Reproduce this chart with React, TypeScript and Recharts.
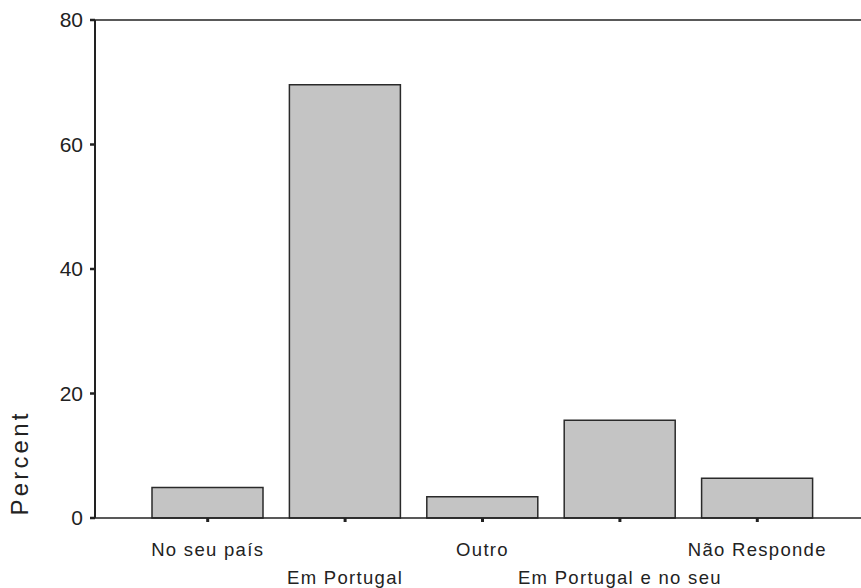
import { Bar, BarChart, ReferenceLine, XAxis, YAxis } from "recharts"

const categories = ["No seu país", "Em Portugal", "Outro", "Em Portugal e no seu", "Não Responde"]
const percents = [4.9, 69.6, 3.4, 15.7, 6.4]
const yTicks = [0, 20, 40, 60, 80]

const data = categories.map((name, i) => ({ name, value: percents[i] }))

const FONT = "'Liberation Sans', Arial, Helvetica, sans-serif"

// labels alternate between two rows, like the original
function StaggeredTick(props: any) {
  const { x, y, payload, index } = props
  const dy = index % 2 === 0 ? 34 : 62
  return (
    <text
      x={x}
      y={y + dy}
      textAnchor="middle"
      fill="#222"
      fontSize={18.5}
      fontFamily={FONT}
      style={{ letterSpacing: "1.3px" }}
    >
      {payload.value}
    </text>
  )
}

function PercentLabel(props: any) {
  const { viewBox } = props
  const cx = 19
  const cy = viewBox.y + viewBox.height - 55
  return (
    <text
      x={cx}
      y={cy}
      transform={`rotate(-90 ${cx} ${cy})`}
      textAnchor="middle"
      dominantBaseline="central"
      fill="#222"
      fontSize={24}
      fontFamily={FONT}
      style={{ letterSpacing: "3.2px" }}
    >
      Percent
    </text>
  )
}

export default function App() {
  return (
    <div style={{ position: "absolute", left: 0, top: 0, background: "#fff" }}>
      <BarChart
        width={861}
        height={588}
        data={data}
        margin={{ top: 20, right: 0, left: 0, bottom: 0 }}
      >
        <XAxis
          dataKey="name"
          height={70}
          interval={0}
          padding={{ left: 44, right: 35 }}
          axisLine={{ stroke: "#222", strokeWidth: 1.5 }}
          tickLine={{ stroke: "#222", strokeWidth: 3 }}
          tickSize={4}
          tickMargin={0}
          tick={<StaggeredTick />}
        />
        <YAxis
          width={95}
          domain={[0, 80]}
          ticks={yTicks}
          axisLine={{ stroke: "#222", strokeWidth: 2 }}
          tickLine={{ stroke: "#222", strokeWidth: 2.5 }}
          tickSize={5}
          tickMargin={7}
          tick={{ fill: "#222", fontSize: 21, fontFamily: FONT }}
          label={<PercentLabel />}
        />
        <ReferenceLine y={80} stroke="#222" strokeWidth={1.5} />
        <Bar
          dataKey="value"
          barSize={111}
          fill="#c4c4c4"
          stroke="#2a2a2a"
          strokeWidth={1.5}
          isAnimationActive={false}
        />
      </BarChart>
    </div>
  )
}
